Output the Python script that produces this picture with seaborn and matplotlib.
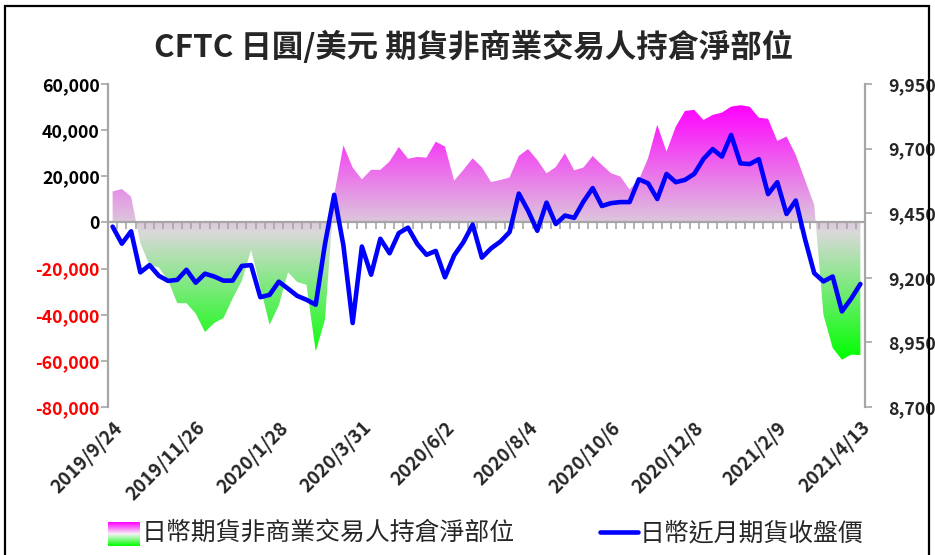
import numpy as np
import pandas as pd
import matplotlib
matplotlib.use("Agg")
import matplotlib.pyplot as plt
import seaborn as sns
from matplotlib.colors import LinearSegmentedColormap
from matplotlib.patches import PathPatch, Rectangle
from matplotlib.lines import Line2D

# ---------------- data ----------------
dates = pd.date_range("2019-09-24", periods=82, freq="7D")

net_position = [
    13400, 14500, 11200, -9000, -18500, -19500, -25000, -35000, -35000, -39500,
    -47500, -43600, -41500, -33000, -25300, -12000, -28000, -44300, -36000, -21600,
    -25800, -27000, -55900, -42200, 12000, 33400, 23800, 18700, 22800, 22800,
    26400, 32700, 27600, 28400, 28100, 35000, 32900, 18100, 22800, 27800,
    23900, 17500, 18400, 19500, 28800, 31800, 27100, 21300, 24000, 30000,
    22600, 23800, 28800, 24900, 21300, 19900, 14300, 18400, 27800, 42300,
    30700, 41500, 48300, 48800, 44400, 46600, 47600, 50200, 50800, 50200,
    45400, 44900, 35300, 37200, 29300, 18400, 7600, -40000, -54400, -59500,
    -57300, -57500,
]

close_price = [
    9398, 9332, 9380, 9221, 9249, 9208, 9188, 9192, 9231, 9181,
    9216, 9205, 9189, 9189, 9246, 9249, 9125, 9134, 9185, 9158,
    9130, 9115, 9096, 9330, 9521, 9325, 9025, 9321, 9212, 9351,
    9295, 9373, 9394, 9331, 9289, 9304, 9202, 9287, 9338, 9406,
    9278, 9314, 9340, 9377, 9526, 9460, 9382, 9491, 9408, 9441,
    9432, 9495, 9547, 9478, 9489, 9493, 9493, 9581, 9566, 9505,
    9602, 9570, 9579, 9602, 9660, 9698, 9669, 9753, 9643, 9640,
    9659, 9524, 9570, 9447, 9499, 9350, 9218, 9186, 9205, 9070,
    9119, 9176,
]

tick_labels = ["2019/9/24", "2019/11/26", "2020/1/28", "2020/3/31", "2020/6/2",
               "2020/8/4", "2020/10/6", "2020/12/8", "2021/2/9", "2021/4/13"]
left_ticks = [60000, 40000, 20000, 0, -20000, -40000, -60000, -80000]
right_ticks = [9950, 9700, 9450, 9200, 8950, 8700]

title = "CFTC 日圓/美元 期貨非商業交易人持倉淨部位"
area_name = "日幣期貨非商業交易人持倉淨部位"
line_name = "日幣近月期貨收盤價"

# ---------------- style ----------------
sns.set_theme(style="white")
plt.rcParams["font.family"] = ["Noto Sans CJK TC", "DejaVu Sans"]
plt.rcParams["axes.unicode_minus"] = False

GRAY = "#A6A6A6"
grad_cmap = LinearSegmentedColormap.from_list(
    "mg", [(0.0, "#00FF00"), (0.5, "#D9D9D9"), (1.0, "#FF00FF")])
legend_cmap = LinearSegmentedColormap.from_list(
    "lg", [(0.0, "#00FF00"), (0.5, "#F4F4F4"), (1.0, "#FF00FF")])

df = pd.DataFrame({"idx": np.arange(len(dates)), "date": dates,
                   "net": net_position, "price": close_price})

fig = plt.figure(figsize=(9.35, 5.55), dpi=100)
ax = fig.add_axes([108 / 935, 1 - 407 / 555, (865 - 108) / 935, (407 - 84) / 555])

n = len(df)
# area with gradient
fb = ax.fill_between(df["idx"], 0, df["net"], facecolor="none", edgecolor="none")
path = fb.get_paths()[0]
clip = PathPatch(path, transform=ax.transData, facecolor="none", edgecolor="none")
ax.add_patch(clip)
vmin, vmax = min(net_position), max(net_position)
grad = np.linspace(0, 1, 256).reshape(-1, 1)
im = ax.imshow(grad, extent=[-0.5, n - 0.5, vmin, vmax], origin="lower",
               aspect="auto", cmap=grad_cmap, zorder=1, interpolation="bilinear")
im.set_clip_path(clip)

# zero line with category ticks
ax.axhline(0, color=GRAY, lw=1.6, zorder=3)
ax.plot(np.arange(n) + 0.5, np.zeros(n), ls="none", marker=3, ms=5,
        mew=1.2, color=GRAY, zorder=3)

ax.set_xlim(-0.5, n - 0.5)
ax.set_ylim(-80000, 60000)
ax.set_yticks(left_ticks)
ax.set_yticklabels([f"{v:,}" for v in left_ticks])
for lab, v in zip(ax.get_yticklabels(), left_ticks):
    lab.set_color("#FF0000" if v < 0 else "black")
    lab.set_fontweight("bold")
    lab.set_fontsize(12.8)
ax.tick_params(axis="y", direction="out", length=5, width=1.2, color=GRAY,
               pad=1, left=True)
ax.set_xticks(np.arange(0, n, 9))
ax.set_xticklabels(tick_labels, rotation=45, ha="right", va="top",
                   rotation_mode="anchor", fontsize=13.5, fontweight="bold")
ax.tick_params(axis="x", length=0, pad=8)
for s in ["top", "bottom", "right"]:
    ax.spines[s].set_visible(False)
ax.spines["left"].set_color(GRAY)
ax.spines["left"].set_linewidth(1.6)
ax.grid(False)

# price line
ax2 = ax.twinx()
sns.lineplot(data=df, x="idx", y="price", ax=ax2, color="#0000FF", lw=3.3)
ax2.set_ylim(8700, 9950)
ax2.set_xlim(-0.5, n - 0.5)
ax2.set_yticks(right_ticks)
ax2.set_yticklabels([f"{v:,}" for v in right_ticks], fontsize=12.8,
                    fontweight="bold")
ax2.tick_params(axis="y", direction="out", length=5, width=1.2, color=GRAY,
                pad=12, right=True)
ax2.set_ylabel("")
ax2.set_xlabel("")
ax.set_xlabel("")
ax.set_ylabel("")
for s in ["top", "bottom", "left"]:
    ax2.spines[s].set_visible(False)
ax2.spines["right"].set_color(GRAY)
ax2.spines["right"].set_linewidth(1.6)
ax2.grid(False)

# title
fig.text(474 / 935, 1 - 47 / 555, title, ha="center", va="center",
         fontsize=22.6, fontweight="bold")

# legend (manual)
lax = fig.add_axes([108 / 935, 1 - 546 / 555, 32 / 935, 24 / 555])
lax.imshow(np.linspace(1, 0, 64).reshape(-1, 1), aspect="auto", cmap=legend_cmap,
           interpolation="bilinear")
lax.set_axis_off()
fig.text(142 / 935, 1 - 533 / 555, area_name, ha="left", va="center",
         fontsize=17.9, fontweight="medium")
fig.add_artist(Line2D([600 / 935, 638 / 935], [1 - 532 / 555, 1 - 532 / 555],
                      color="#0000FF", lw=3.3, transform=fig.transFigure))
fig.text(640 / 935, 1 - 533 / 555, line_name, ha="left", va="center",
         fontsize=17.9, fontweight="medium")

# outer frame
fig.add_artist(Rectangle((4.5 / 935, -0.02), (928.5 - 4.5) / 935,
                         1 - 5.5 / 555 + 0.02, transform=fig.transFigure,
                         fill=False, edgecolor="black", lw=1.6))

fig.savefig("out.png", dpi=100)
